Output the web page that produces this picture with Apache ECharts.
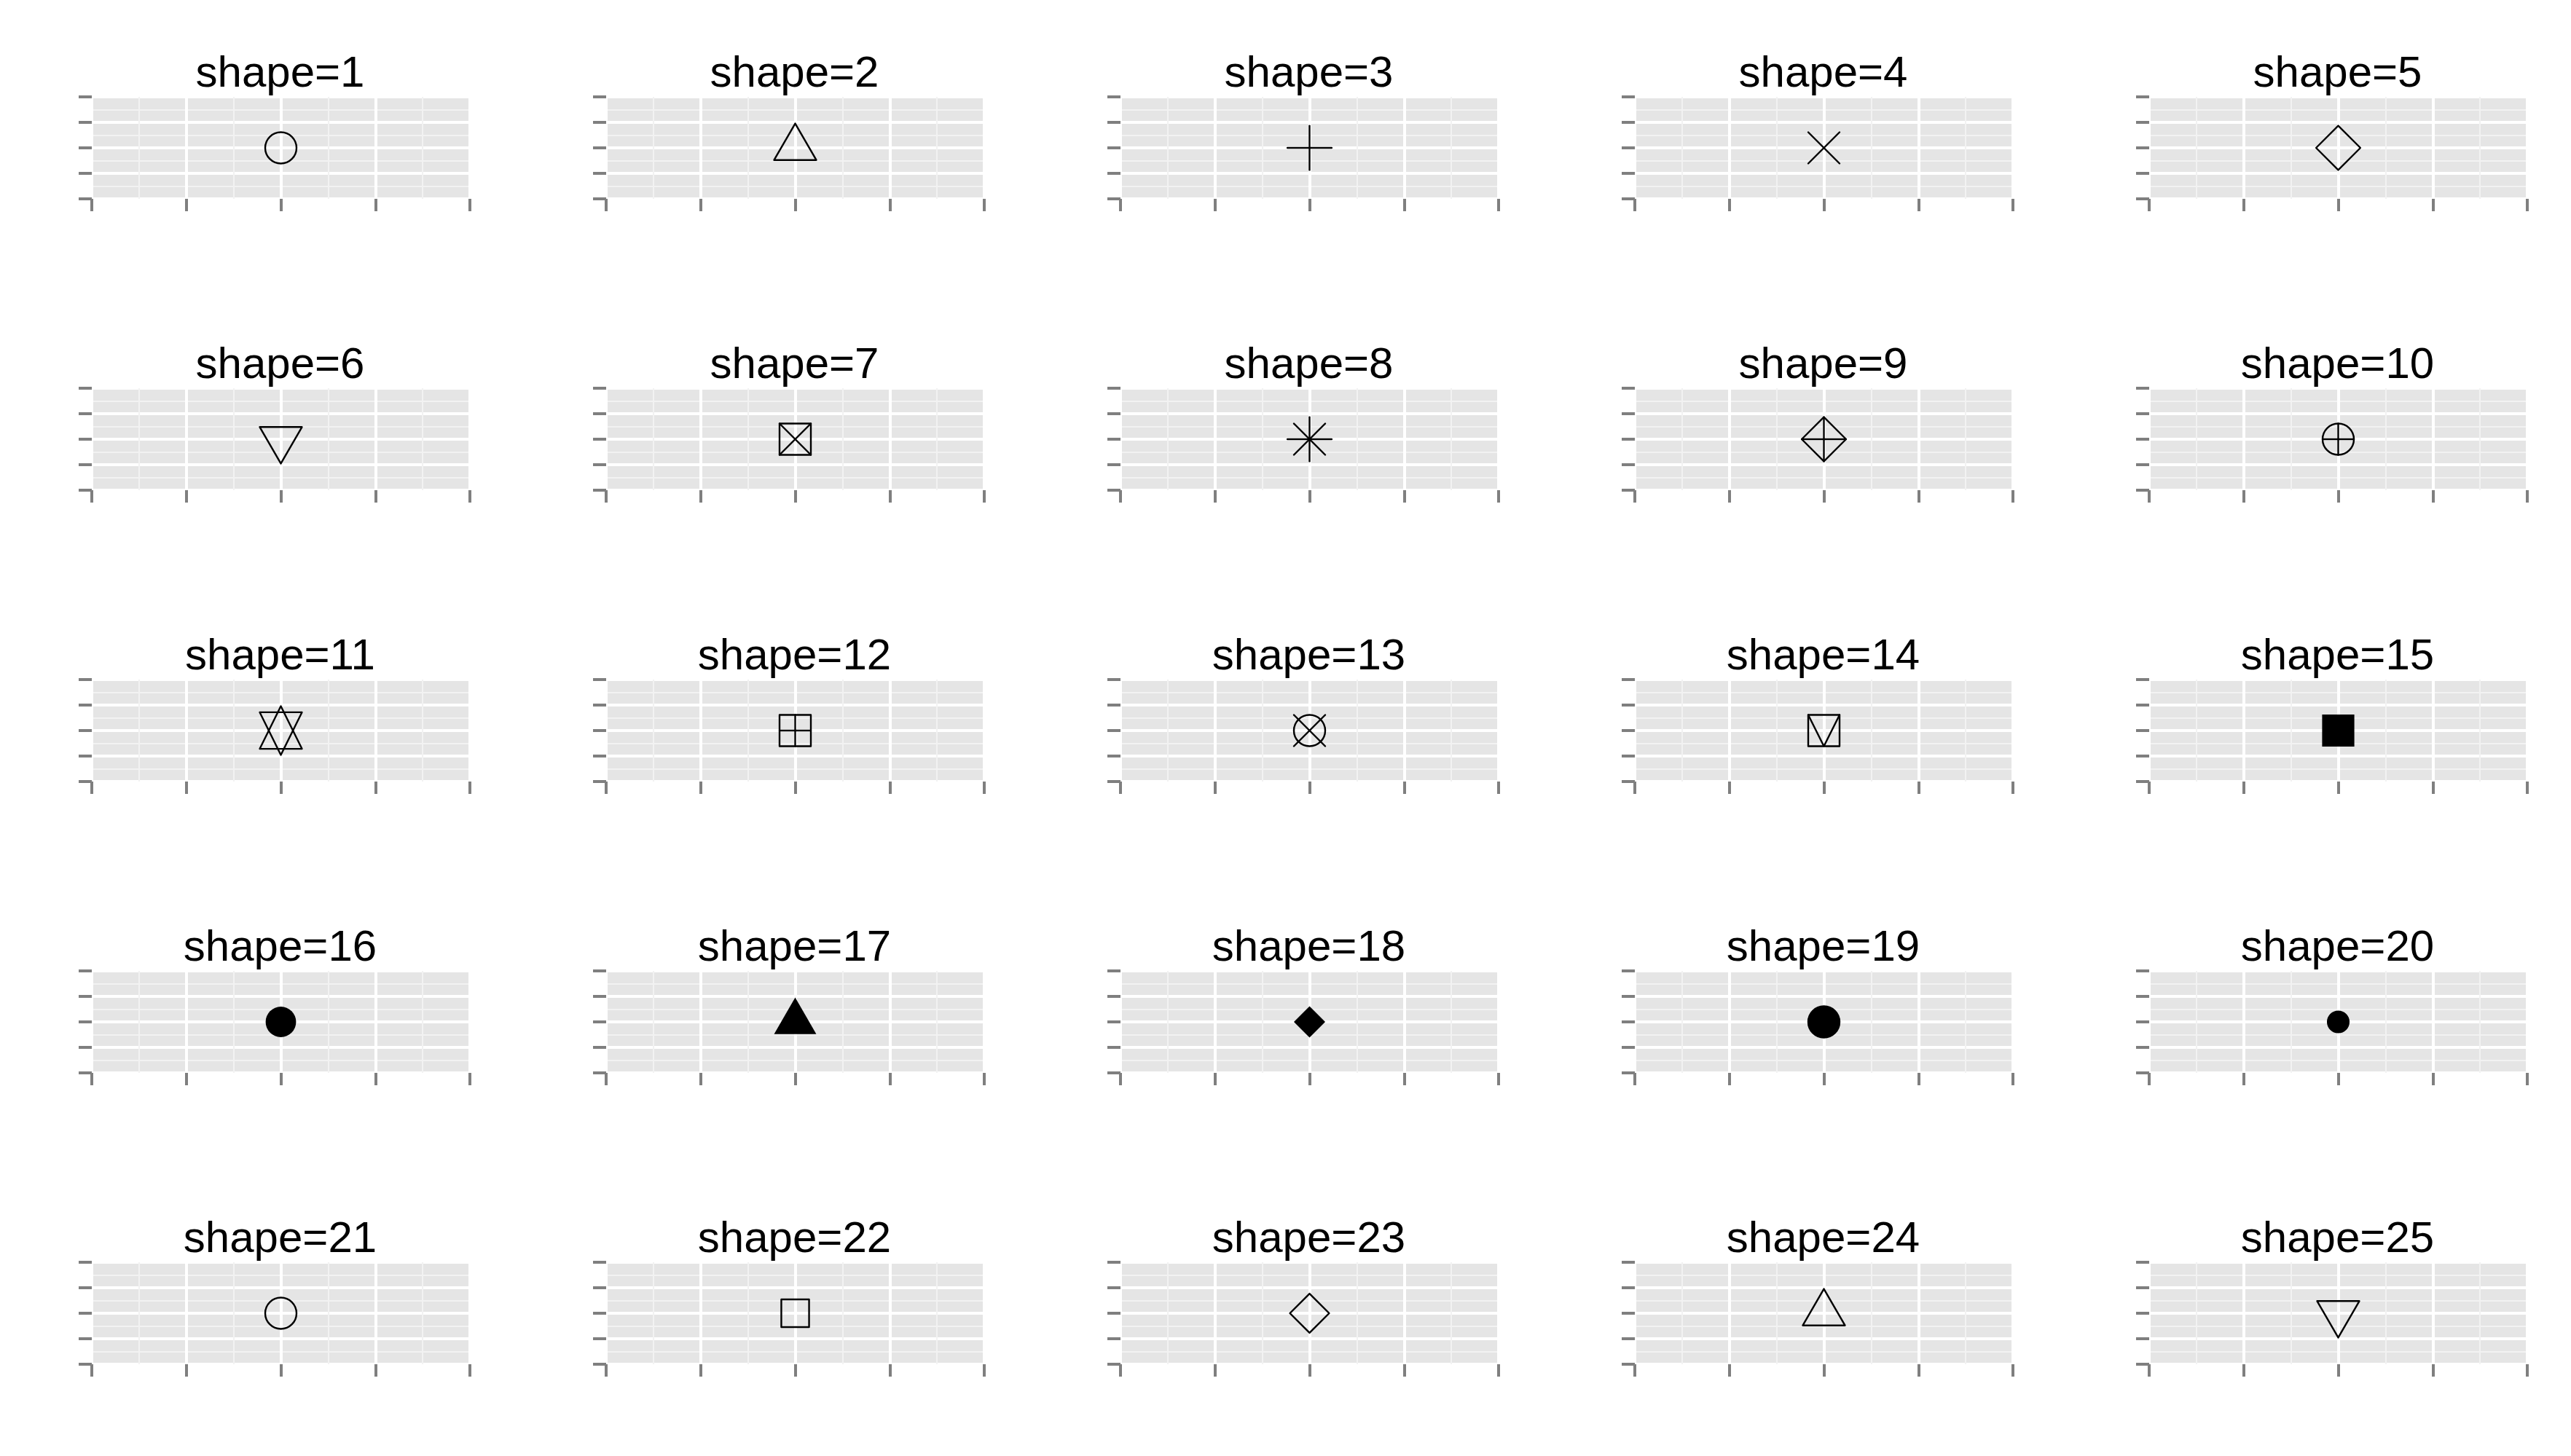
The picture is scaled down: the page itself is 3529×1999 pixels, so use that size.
<!DOCTYPE html>
<html>
<head>
<meta charset="utf-8">
<script src="https://cdn.jsdelivr.net/npm/echarts/dist/echarts.min.js"></script>
<style>
html,body{margin:0;padding:0;background:#fff;}
#chart{width:3529px;height:1999px;}
</style>
</head>
<body>
<div id="chart"></div>
<script>
// ---- data ----
const shapes = [1, 2, 3, 4, 5, 6, 7, 8, 9, 10, 11, 12, 13, 14, 15, 16, 17, 18, 19, 20, 21, 22, 23, 24, 25];
const pointX = [0, 0, 0, 0, 0, 0, 0, 0, 0, 0, 0, 0, 0, 0, 0, 0, 0, 0, 0, 0, 0, 0, 0, 0, 0];
const pointY = [0, 0, 0, 0, 0, 0, 0, 0, 0, 0, 0, 0, 0, 0, 0, 0, 0, 0, 0, 0, 0, 0, 0, 0, 0];
const xRange = [-1, 1];
const yRange = [-1, 1];
const axisStep = 0.5;

// ---- layout ----
const NCOL = 5;
const PANEL_W = 519, PANEL_H = 140;
const LEFT0 = 126, TOP0 = 133, COL_STEP = 706, ROW_STEP = 400;
const S = 21.5;       // base symbol radius in px
const LW = 2.4;       // symbol line width

const TRC0 = 1.55512030155621416073, TRC1 = 1.34677368708859836060, TRC2 = 0.77756015077810708036;
const SQRC = 0.88622692545275801364, DMDC = 1.25331413731550025119;

function glyph(code, cx, cy) {
  const st = {stroke: '#000', lineWidth: LW, fill: 'none', lineCap: 'round', lineJoin: 'round'};
  const filled = {fill: '#000', stroke: 'none', lineWidth: 0};
  const filledB = {fill: '#000', stroke: '#000', lineWidth: LW};
  const line = (x1, y1, x2, y2) => ({type: 'line', shape: {x1: cx + x1, y1: cy + y1, x2: cx + x2, y2: cy + y2}, style: st});
  const poly = (pts, style) => ({type: 'polygon', shape: {points: pts.map(p => [cx + p[0], cy + p[1]])}, style: style || st});
  const circ = (r, style) => ({type: 'circle', shape: {cx: cx, cy: cy, r: r}, style: style || st});
  const sq = (h, style) => poly([[-h, -h], [h, -h], [h, h], [-h, h]], style);
  const dia = (h, style) => poly([[0, -h], [h, 0], [0, h], [-h, 0]], style);
  const triUp = (s, style) => poly([[0, -TRC0 * s], [TRC1 * s, TRC2 * s], [-TRC1 * s, TRC2 * s]], style);
  const triDn = (s, style) => poly([[0, TRC0 * s], [TRC1 * s, -TRC2 * s], [-TRC1 * s, -TRC2 * s]], style);
  const plus = h => [line(-h, 0, h, 0), line(0, -h, 0, h)];
  const times = h => [line(-h, -h, h, h), line(-h, h, h, -h)];
  const r2 = Math.SQRT2 * S;
  switch (code) {
    case 1: return [circ(S)];
    case 2: return [triUp(S)];
    case 3: return plus(r2);
    case 4: return times(S);
    case 5: return [dia(r2)];
    case 6: return [triDn(S)];
    case 7: return [sq(S)].concat(times(S));
    case 8: return times(S).concat(plus(r2));
    case 9: return [dia(r2)].concat(plus(r2));
    case 10: return [circ(S)].concat(plus(S));
    case 11: {
      const r = TRC0 * S, yc = 0.5 * (TRC2 * S + r), hx = TRC1 * S;
      return [poly([[-hx, -yc], [hx, -yc], [0, r]]), poly([[-hx, yc], [hx, yc], [0, -r]])];
    }
    case 12: return [sq(S)].concat(plus(S));
    case 13: return [circ(S)].concat(times(S));
    case 14: return [sq(S), {type: 'polyline', shape: {points: [[cx - S, cy - S], [cx, cy + S], [cx + S, cy - S]]}, style: st}];
    case 15: return [sq(S + 0.6, filled)];
    case 16: return [circ(S - 0.6, filled)];
    case 17: return [triUp(S, filled)];
    case 18: return [dia(S, filled)];
    case 19: return [circ(S, filledB)];
    case 20: return [circ(S * 0.25 / 0.375, filledB)];
    case 21: return [circ(S)];
    case 22: return [sq(S * SQRC)];
    case 23: return [dia(S * DMDC)];
    case 24: return [triUp(S)];
    case 25: return [triDn(S)];
  }
  return [];
}

const grids = [], xAxes = [], yAxes = [], series = [], graphics = [];
shapes.forEach((code, i) => {
  const c = i % NCOL, r = Math.floor(i / NCOL);
  const left = LEFT0 + COL_STEP * c, top = TOP0 + ROW_STEP * r;
  grids.push({left: left, top: top, width: PANEL_W, height: PANEL_H, show: true,
    backgroundColor: '#E5E5E5', borderWidth: 0, containLabel: false});
  const axisCommon = {
    gridIndex: i, type: 'value', interval: axisStep,
    axisLine: {show: false, onZero: false},
    axisLabel: {show: false},
    splitLine: {show: true, lineStyle: {color: '#FFFFFF', width: 4}},
    minorTick: {show: false, splitNumber: 2},
    minorSplitLine: {show: true, lineStyle: {color: '#F2F2F2', width: 2}}
  };
  xAxes.push(Object.assign({}, axisCommon, {min: xRange[0], max: xRange[1], position: 'bottom',
    axisTick: {show: true, length: 17, lineStyle: {color: '#7F7F7F', width: 4}}}));
  yAxes.push(Object.assign({}, axisCommon, {min: yRange[0], max: yRange[1], position: 'left',
    axisTick: {show: true, length: 18, lineStyle: {color: '#7F7F7F', width: 4}}}));
  series.push({
    type: 'custom', xAxisIndex: i, yAxisIndex: i, clip: false, silent: true,
    data: [[pointX[i], pointY[i]]],
    renderItem: function (params, api) {
      const p = api.coord([api.value(0), api.value(1)]);
      return {type: 'group', children: glyph(code, p[0], p[1])};
    }
  });
  graphics.push({type: 'text', x: left + PANEL_W / 2 - 1, y: top - 31, silent: true,
    style: {text: 'shape=' + code, fill: '#000', font: 'normal 60px "Liberation Sans", Arial, sans-serif',
      textAlign: 'center', textVerticalAlign: 'middle'}});
});

const chart = echarts.init(document.getElementById('chart'), null, {renderer: 'canvas', width: 3529, height: 1999});
chart.setOption({
  animation: false,
  backgroundColor: '#FFFFFF',
  grid: grids, xAxis: xAxes, yAxis: yAxes, series: series, graphic: graphics
});
</script>
</body>
</html>
